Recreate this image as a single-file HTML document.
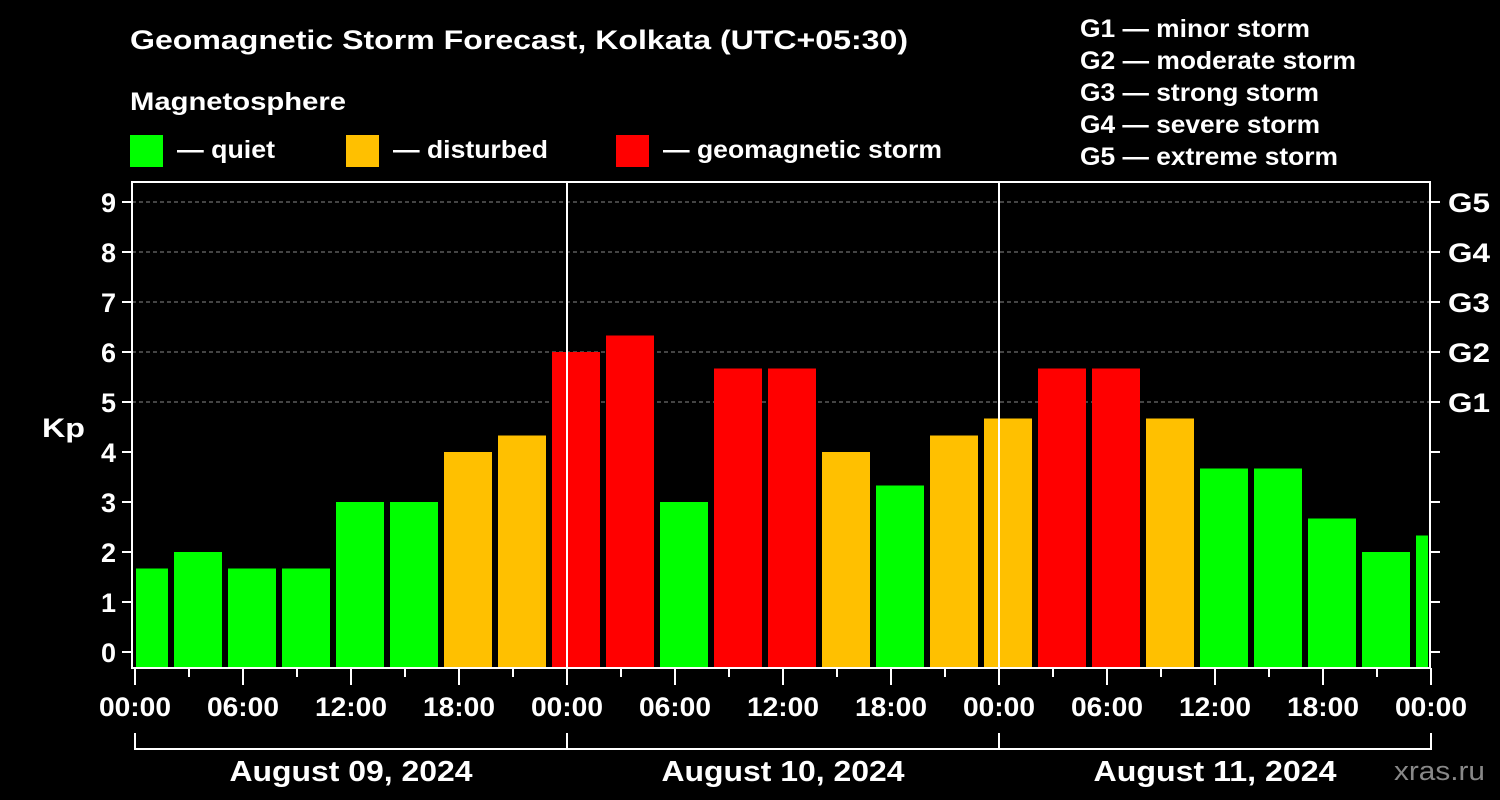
<!DOCTYPE html>
<html><head><meta charset="utf-8"><style>
body{margin:0;background:#000;}
svg{display:block;font-family:"Liberation Sans",Arial,sans-serif;font-weight:bold;}
</style></head><body>
<svg id="chart" width="1500" height="800" viewBox="0 0 1500 800">
<rect width="1500" height="800" fill="#000"/>
<text x="130" y="49" fill="#fff" font-size="27" textLength="778" lengthAdjust="spacingAndGlyphs">Geomagnetic Storm Forecast, Kolkata (UTC+05:30)</text>
<text x="130" y="110" fill="#fff" font-size="25" textLength="216" lengthAdjust="spacingAndGlyphs">Magnetosphere</text>
<g><rect x="130" y="135" width="33" height="32" fill="#00ff00"/><text x="177" y="158" fill="#fff" font-size="25" textLength="98" lengthAdjust="spacingAndGlyphs">— quiet</text></g>
<g><rect x="346" y="135" width="33" height="32" fill="#ffc000"/><text x="393" y="158" fill="#fff" font-size="25" textLength="155" lengthAdjust="spacingAndGlyphs">— disturbed</text></g>
<g><rect x="616" y="135" width="33" height="32" fill="#ff0000"/><text x="663" y="158" fill="#fff" font-size="25" textLength="279" lengthAdjust="spacingAndGlyphs">— geomagnetic storm</text></g>
<g fill="#fff" font-size="25">
<text x="1080" y="37" textLength="230" lengthAdjust="spacingAndGlyphs">G1 — minor storm</text><text x="1080" y="69" textLength="276" lengthAdjust="spacingAndGlyphs">G2 — moderate storm</text><text x="1080" y="101" textLength="239" lengthAdjust="spacingAndGlyphs">G3 — strong storm</text><text x="1080" y="133" textLength="240" lengthAdjust="spacingAndGlyphs">G4 — severe storm</text><text x="1080" y="165" textLength="258" lengthAdjust="spacingAndGlyphs">G5 — extreme storm</text>
</g>
<text x="42" y="437" fill="#fff" font-size="27" textLength="43" lengthAdjust="spacingAndGlyphs">Kp</text>
<g id="grid"></g><g id="bars"></g><g id="axes"></g>
<text x="1394" y="780" fill="#888" font-size="27" font-weight="normal" textLength="91" lengthAdjust="spacingAndGlyphs">xras.ru</text>
</svg>
<script>
const startHours=[-1,2,5,8,11,14,17,20,23,26,29,32,35,38,41,44,47,50,53,56,59,62,65,68,71];
const kpValues=[1.67,2,1.67,1.67,3,3,4,4.33,6,6.33,3,5.67,5.67,4,3.33,4.33,4.67,5.67,5.67,4.67,3.67,3.67,2.67,2,2.33];
const kpTicks=[0,1,2,3,4,5,6,7,8,9];
const gLabels=["G1","G2","G3","G4","G5"];
const timeLabels=["00:00","06:00","12:00","18:00","00:00","06:00","12:00","18:00","00:00","06:00","12:00","18:00","00:00"];
const dateLabels=["August 09, 2024","August 10, 2024","August 11, 2024"];
const NS="http://www.w3.org/2000/svg";
const X0=135,PX=18,L=132,R=1430,T=182,B=668;
const xs=h=>X0+h*PX, ys=k=>652-k*50;
function mk(tag,attrs,parent,txt){const e=document.createElementNS(NS,tag);for(const k in attrs)e.setAttribute(k,attrs[k]);if(txt!=null)e.textContent=txt;parent.appendChild(e);return e;}
const grid=document.getElementById('grid'),bars=document.getElementById('bars'),axes=document.getElementById('axes');
for(let k=5;k<=9;k++){const l=mk('line',{x1:L,x2:R,y1:ys(k),y2:ys(k),stroke:'#888','stroke-dasharray':'4,3','stroke-width':1},grid);

}
startHours.forEach((h,i)=>{const v=kpValues[i];let x1=Math.max(xs(h)+3,L+4),x2=Math.min(xs(h+3)-3,R-2);
const c=v>=5?'#ff0000':(v>=4?'#ffc000':'#00ff00');
const r=mk('rect',{x:x1,y:ys(v),width:x2-x1,height:B-ys(v),fill:c},bars);

});
[567,999].forEach(x=>{const l=mk('line',{x1:x,x2:x,y1:T,y2:B,stroke:'#fff','stroke-width':2},axes);

});
const fr=mk('rect',{x:L,y:T,width:R-L,height:B-T,fill:'none',stroke:'#fff','stroke-width':2},axes);


kpTicks.forEach(k=>{const y=ys(k);
mk('line',{x1:L-10,x2:L,y1:y,y2:y,stroke:'#fff','stroke-width':2},axes);
mk('line',{x1:R,x2:R+10,y1:y,y2:y,stroke:'#fff','stroke-width':2},axes);
const t=mk('text',{x:116,y:y+10,fill:'#fff','font-size':27,'text-anchor':'end'},axes,String(k));


if(k>=5){const g=mk('text',{x:1448,y:y+10,fill:'#fff','font-size':27,textLength:42,lengthAdjust:'spacingAndGlyphs'},axes,gLabels[k-5]);

}});
for(let h=0;h<=72;h+=3){const major=h%6===0;mk('line',{x1:xs(h),x2:xs(h),y1:B,y2:B+(major?17:9),stroke:'#fff','stroke-width':2},axes);}
timeLabels.forEach((s,i)=>{const t=mk('text',{x:xs(i*6),y:716,fill:'#fff','font-size':27,'text-anchor':'middle',textLength:72,lengthAdjust:'spacingAndGlyphs'},axes,s);

});
mk('line',{x1:xs(0),x2:xs(72),y1:749,y2:749,stroke:'#fff','stroke-width':2},axes);
for(let d=0;d<=3;d++)mk('line',{x1:xs(d*24),x2:xs(d*24),y1:733,y2:750,stroke:'#fff','stroke-width':2},axes);
dateLabels.forEach((s,i)=>{const t=mk('text',{x:xs(i*24+12),y:781,fill:'#fff','font-size':29,'text-anchor':'middle',textLength:243,lengthAdjust:'spacingAndGlyphs'},axes,s);

});
</script>
</body></html>
